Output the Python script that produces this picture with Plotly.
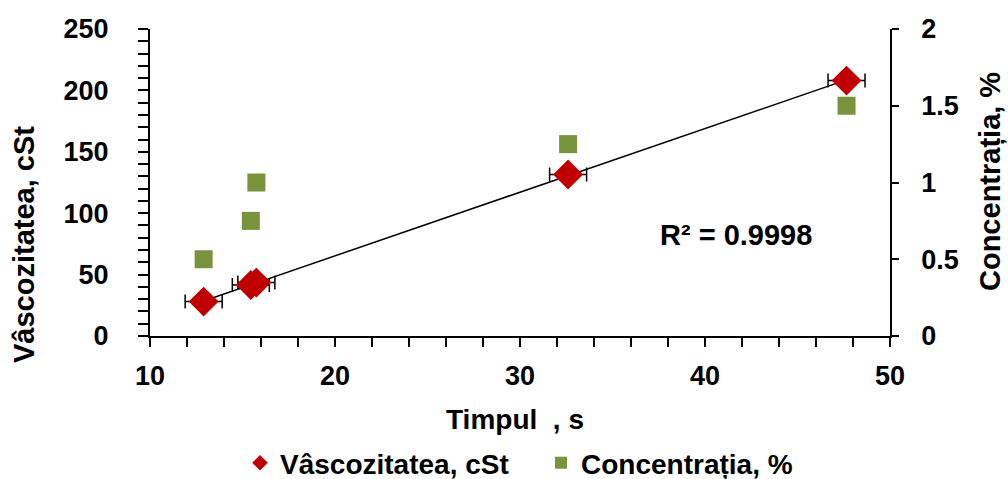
import numpy as np
import plotly.graph_objects as go

# Data
time_s = [12.9, 15.45, 15.75, 32.6, 47.65]
viscosity_cst = [28, 41.5, 43.5, 131.5, 208]
time_err = [1.0, 1.0, 1.0, 1.0, 1.0]
concentration_pct = [0.5, 0.75, 1.0, 1.25, 1.5]

r2_label = "R² = 0.9998"
visc_name = "Vâscozitatea, cSt"
conc_name = "Concentrația, %"
x_title = "Timpul  , s"

FONT = "Liberation Sans, Arial, sans-serif"
RED = "#C00000"
GREEN = "#77933C"

W, H = 1008, 479
L, R, T, B = 150, 118, 29, 143
pw, ph = W - L - R, H - T - B


def px_to_paper(xp, yp):
    return (xp - L) / pw, (H - B - yp) / ph


# Linear trendline fitted from data
slope, intercept = np.polyfit(time_s, viscosity_cst, 1)
tx = np.array([min(time_s), max(time_s)])
ty = slope * tx + intercept

fig = go.Figure()

# Concentration (secondary axis)
fig.add_trace(go.Scatter(
    x=time_s, y=concentration_pct, mode="markers", name=conc_name,
    yaxis="y2",
    marker=dict(symbol="square", size=18, color=GREEN),
))

# Trendline
fig.add_trace(go.Scatter(
    x=tx, y=ty, mode="lines", showlegend=False, hoverinfo="skip",
    line=dict(color="black", width=1.5),
))

# Viscosity with horizontal error bars
fig.add_trace(go.Scatter(
    x=time_s, y=viscosity_cst, mode="markers", name=visc_name,
    marker=dict(symbol="diamond", size=23, color=RED),
    error_x=dict(type="data", array=time_err, visible=True,
                 color="black", thickness=1.5, width=7),
))

fig.add_annotation(
    x=41.7, y=0.658, xref="x", yref="y2", text=r2_label, showarrow=False,
    xanchor="center", yanchor="middle",
    font=dict(family=FONT, size=29, color="black", weight="bold"),
)

tick_font = dict(family=FONT, size=27, color="black", weight="bold")

# Axis titles placed as in the reference
for text, (xp, yp), angle, size in [
    (visc_name, (24, 245), -90, 29),
    (conc_name, (990, 182), -90, 29),
    (x_title, (515, 419), 0, 28),
]:
    ax_, ay_ = px_to_paper(xp, yp)
    fig.add_annotation(
        x=ax_, y=ay_, xref="paper", yref="paper", text=text,
        showarrow=False, textangle=angle, xanchor="center", yanchor="middle",
        font=dict(family=FONT, size=size, color="black", weight="bold"),
    )

leg_x, _ = px_to_paper(240, 0)

fig.update_layout(
    width=W, height=H,
    margin=dict(l=L, r=R, t=T, b=B, autoexpand=False),
    plot_bgcolor="white", paper_bgcolor="white",
    font=dict(family=FONT, color="black"),
    xaxis=dict(
        range=[10, 50], dtick=10, tick0=10,
        showline=True, linecolor="black", linewidth=2,
        ticks="outside", ticklen=9, tickwidth=1.5, tickcolor="black",
        minor=dict(dtick=2, ticks="outside", ticklen=9, tickwidth=1.5, tickcolor="black", showgrid=False),
        showgrid=False, zeroline=False,
        tickfont=tick_font, ticklabelstandoff=6,
    ),
    yaxis=dict(
        range=[0, 250], dtick=50,
        showline=True, linecolor="black", linewidth=2,
        ticks="outside", ticklen=10, tickwidth=1.5, tickcolor="black",
        minor=dict(dtick=10, ticks="outside", ticklen=10, tickwidth=1.5, tickcolor="black", showgrid=False),
        showgrid=False, zeroline=False,
        tickfont=tick_font, ticklabelstandoff=24,
    ),
    yaxis2=dict(
        range=[0, 2], dtick=0.5, overlaying="y", side="right",
        showline=True, linecolor="black", linewidth=1.5,
        ticks="outside", ticklen=7, tickwidth=1.5, tickcolor="black",
        showgrid=False, zeroline=False,
        tickfont=tick_font, ticklabelstandoff=17,
    ),
    legend=dict(
        orientation="h", x=leg_x, xanchor="left",
        y=(H - 463) / H, yref="container", yanchor="middle",
        font=dict(family=FONT, size=28, color="black", weight="bold"),
        traceorder="reversed", itemsizing="constant", itemwidth=30,
        entrywidth=256,
    ),
)

fig.write_html("out.html")
